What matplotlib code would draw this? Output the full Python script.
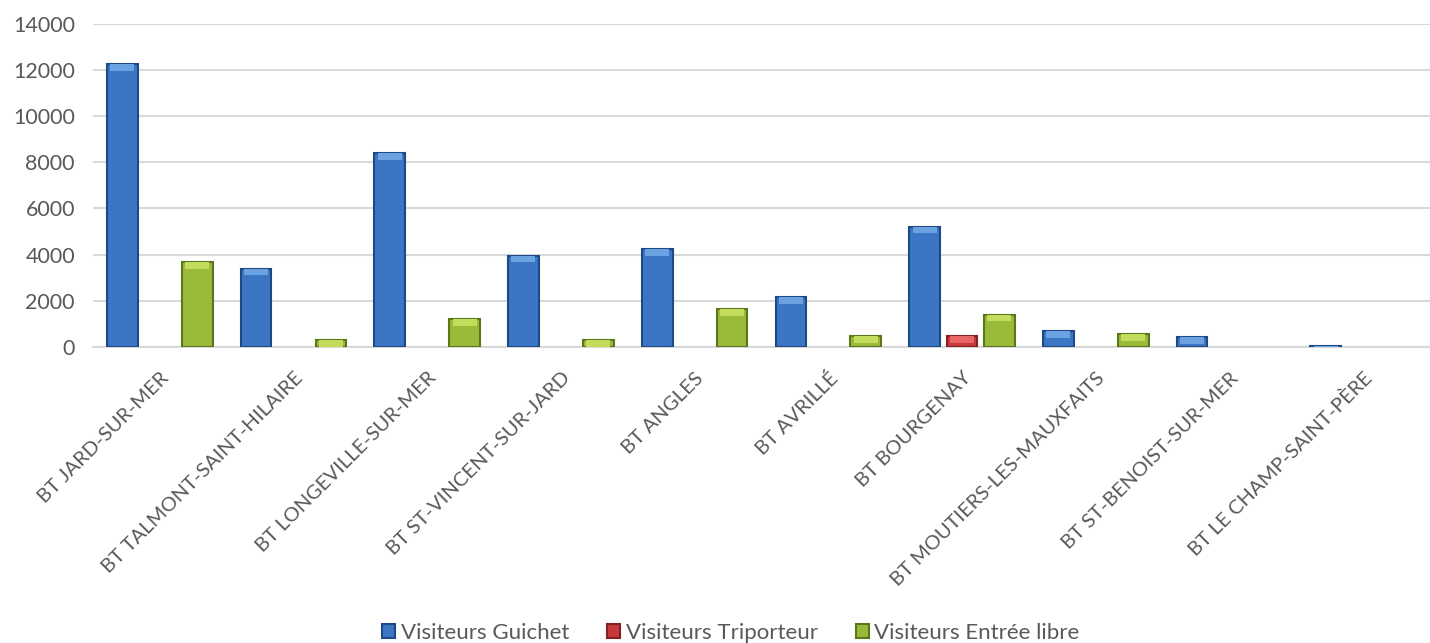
import matplotlib
matplotlib.use("Agg")
import matplotlib.pyplot as plt
import numpy as np

categories = ["BT JARD-SUR-MER", "BT TALMONT-SAINT-HILAIRE", "BT LONGEVILLE-SUR-MER",
              "BT ST-VINCENT-SUR-JARD", "BT ANGLES", "BT AVRILLÉ", "BT BOURGENAY",
              "BT MOUTIERS-LES-MAUXFAITS", "BT ST-BENOIST-SUR-MER", "BT LE CHAMP-SAINT-PÈRE"]
guichet = [12250, 3380, 8400, 3950, 4230, 2150, 5200, 690, 430, 40]
triporteur = [0, 0, 0, 0, 0, 0, 470, 0, 0, 0]
entree_libre = [3680, 300, 1210, 300, 1630, 460, 1390, 560, 0, 0]
series_names = ["Visiteurs Guichet", "Visiteurs Triporteur", "Visiteurs Entrée libre"]
y_ticks = [0, 2000, 4000, 6000, 8000, 10000, 12000, 14000]

plt.rcParams['font.family'] = ['Lato', 'DejaVu Sans']
grey = '#595959'

fig = plt.figure(figsize=(14.3, 6.43), dpi=100)
ax = fig.add_axes([0.065, 0.4603, 0.935, 0.5027])

x = np.arange(len(categories))
w = 0.23
gap = 0.28
# face, edge, bevel highlight
styles = [('#3a76c4', '#1d4a85', '#6aa2e2'),
          ('#c8393b', '#862123', '#e86466'),
          ('#9aba3a', '#5c771a', '#c4dc5c')]
for i, (vals, name) in enumerate(zip([guichet, triporteur, entree_libre], series_names)):
    face, edge, light = styles[i]
    v = np.array(vals, dtype=float)
    v = np.where(v > 0, v, np.nan)
    ax.bar(x + (i - 1) * gap, v, width=w, color=face, edgecolor=edge,
           linewidth=1.5, label=name, zorder=3)
    # lighter top bevel
    cap = np.minimum(v, 280)
    ax.bar(x + (i - 1) * gap, cap, bottom=v - cap, width=w * 0.78, color=light,
           linewidth=0, zorder=4)

ax.set_xlim(-0.5, len(categories) - 0.5)
ax.set_ylim(0, 14000)
ax.set_yticks(y_ticks)
ax.set_yticklabels([str(t) for t in y_ticks], fontsize=15.5, color=grey)
ax.set_xticks(x)
ax.set_xticklabels(categories, rotation=45, ha='right', va='top',
                   rotation_mode='anchor', fontsize=14.5, color=grey)
ax.tick_params(axis='both', length=0)
ax.tick_params(axis='y', pad=13)
ax.tick_params(axis='x', pad=16)
ax.yaxis.grid(True, color='#d9d9d9', linewidth=1.5, zorder=0)
for s in ['left', 'right', 'top']:
    ax.spines[s].set_visible(False)
ax.spines['bottom'].set_color('#d9d9d9')
ax.spines['bottom'].set_linewidth(1.5)

leg = fig.legend(loc='center', bbox_to_anchor=(0.511, 1 - 633 / 643), ncol=3, frameon=False,
                 fontsize=16, handlelength=0.6, handleheight=0.6, columnspacing=1.7,
                 handletextpad=0.25)
for t in leg.get_texts():
    t.set_color(grey)

fig.savefig("out.png", dpi=100)
